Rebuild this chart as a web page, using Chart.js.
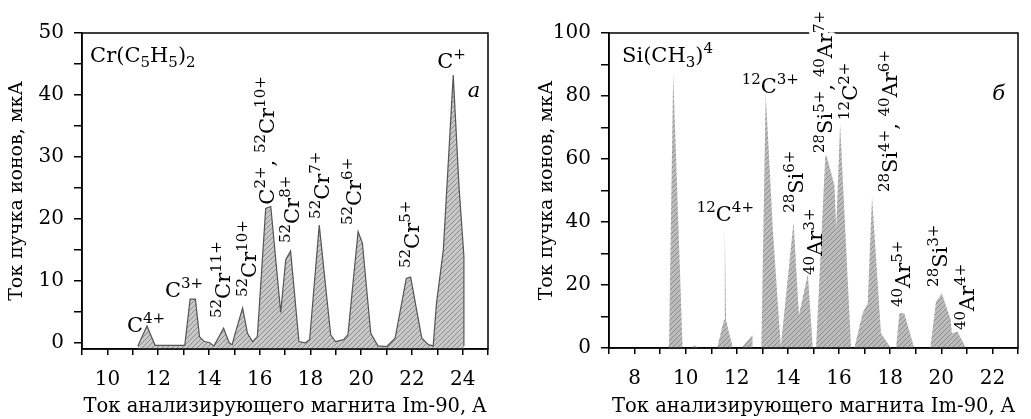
<!DOCTYPE html>
<html><head><meta charset="utf-8">
<script src="https://cdn.jsdelivr.net/npm/chart.js@4.4.1/dist/chart.umd.min.js"></script>
<style>
html,body{margin:0;padding:0;background:#fff;}
#wrap{position:relative;width:1031px;height:419px;overflow:hidden;}
#c1{position:absolute;left:0;top:0;}
#c2{position:absolute;left:515px;top:0;}
</style></head>
<body><div id="wrap"><canvas id="c1" width="515" height="419"></canvas><canvas id="c2" width="516" height="419"></canvas></div>
<script>
// ---- data: left panel Cr(C5H5)2 ----
const crX = [11.2,11.56,11.88,13.05,13.26,13.47,13.63,13.82,14.02,14.2,14.58,14.8,14.92,15.0,15.33,15.52,15.72,15.91,16.24,16.44,16.83,17.03,17.22,17.55,17.8,17.97,18.35,18.8,18.99,19.31,19.48,19.88,20.05,20.38,20.66,21.01,21.34,21.78,21.95,22.39,22.65,22.84,22.97,23.24,23.63,23.86,24.05,24.05];
const crY = [-0.5,2.7,-0.4,-0.4,7.05,7.05,1.0,0.2,0.05,-0.5,2.35,0,-0.3,1.0,5.6,1.55,0.2,1.0,21.7,22.0,4.9,13.4,14.8,0.2,0,0.5,19.0,1.3,0.2,0.5,1.3,17.95,16.1,1.55,-0.5,-0.6,0.75,10.4,10.6,0.75,-0.3,-0.5,6.4,15,43.2,25,14,-0.5];
// ---- data: right panel Si(CH3)4 ----
const siX = [9.3,9.35,9.51,9.88,10.2,10.36,10.5,11.23,11.4,11.5,11.53,11.58,11.66,11.85,12.18,12.61,12.62,12.96,13.13,13.41,13.72,14.22,14.43,14.78,14.97,15.1,15.47,15.82,15.89,16.04,16.47,16.6,16.92,17.12,17.29,17.64,18.03,18.23,18.36,18.55,18.94,19.57,19.79,20.02,20.37,20.41,20.63,20.96];
const siY = [0,1,87.2,0,0,0.8,0,0,5.7,8.9,38.5,8.9,6,0,0,4.1,0,0,80.9,37.5,0.5,40.1,10.5,23.5,0.5,0,62.3,51.7,38,71.3,0,0,11,14.2,48,4.7,0,0,11,11,0,0,14.7,17.4,8.9,4.7,5.2,0];
// ---- axis ticks ----
const crXTicks = [9,10,11,12,13,14,15,16,17,18,19,20,21,22,23,24,25];
const crXLabels = [10,12,14,16,18,20,22,24];
const crYTicks = [0,5,10,15,20,25,30,35,40,45,50];
const crYLabels = [0,10,20,30,40,50];
const siXTicks = [7,8,9,10,11,12,13,14,15,16,17,18,19,20,21,22,23];
const siXLabels = [8,10,12,14,16,18,20,22];
const siYTicks = [0,10,20,30,40,50,60,70,80,90,100];
const siYLabels = [0,20,40,60,80,100];
// ---- text ----
const xTitle = 'Ток анализирующего магнита Im-90, A';
const yTitle = 'Ток пучка ионов, мкА';
const crLabels = [
 {x:9.32,y:45.3,t:'Cr(C_{5}H_{5})_{2}',r:0},
 {x:10.77,y:1.74,t:'C^{4+}',r:0},
 {x:12.27,y:7.39,t:'C^{3+}',r:0},
 {x:14.83,y:4.0,t:'^{52}Cr^{11+}',r:1},
 {x:15.86,y:7.39,t:'^{52}Cr^{10+}',r:1},
 {x:16.55,y:22.3,t:'C^{2+}, ^{52}Cr^{10+}',r:1},
 {x:17.55,y:16.1,t:'^{52}Cr^{8+}',r:1},
 {x:18.73,y:20.0,t:'^{52}Cr^{7+}',r:1},
 {x:20.0,y:19.0,t:'^{52}Cr^{6+}',r:1},
 {x:22.28,y:12.07,t:'^{52}Cr^{5+}',r:1},
 {x:23.0,y:44.35,t:'C^{+}',r:0},
 {x:24.2,y:39.67,t:'a',r:0,it:1}
];
const siLabels = [
 {x:7.51,y:90.8,t:'Si(CH_{3})^{4}',r:0},
 {x:10.43,y:40.3,t:'^{12}C^{4+}',r:0},
 {x:12.19,y:81,t:'^{12}C^{3+}',r:0},
 {x:14.57,y:42.9,t:'^{28}Si^{6+}',r:1},
 {x:15.35,y:23.2,t:'^{40}Ar^{3+}',r:1},
 {x:15.74,y:61.9,t:'^{28}Si^{5+}, ^{40}Ar^{7+}',r:1,halo:1},
 {x:16.72,y:72.4,t:'^{12}C^{2+}',r:1},
 {x:18.28,y:49.5,t:'^{28}Si^{4+}, ^{40}Ar^{6+}',r:1},
 {x:18.79,y:13,t:'^{40}Ar^{5+}',r:1},
 {x:20.23,y:19.4,t:'^{28}Si^{3+}',r:1},
 {x:21.28,y:5.7,t:'^{40}Ar^{4+}',r:1},
 {x:21.99,y:78.7,t:'б',r:0,it:1}
];

const FONT = 'DejaVu Serif';
function hatch(bg, fg){
  const c = document.createElement('canvas'); c.width = 5; c.height = 5;
  const g = c.getContext('2d');
  g.fillStyle = bg; g.fillRect(0,0,5,5);
  g.strokeStyle = fg; g.lineWidth = 1;
  g.beginPath(); g.moveTo(0,5); g.lineTo(5,0); g.moveTo(-1,1); g.lineTo(1,-1); g.moveTo(4,6); g.lineTo(6,4); g.stroke();
  return g.createPattern(c,'repeat');
}
function parseRich(s){
  const out=[]; const re=/([\^_])\{([^}]*)\}|([^\^_]+)/g; let m;
  while((m=re.exec(s))){ if(m[3]) out.push([m[3],'n']); else out.push([m[2], m[1]==='^'?'sup':'sub']); }
  return out;
}
function drawRich(ctx,x,y,s,rot,size,italic,halo){
  const parts=parseRich(s);
  ctx.save(); ctx.translate(x,y); if(rot) ctx.rotate(-Math.PI/2);
  ctx.textBaseline='alphabetic'; ctx.textAlign='left';
  let cx=0;
  for(const [txt,k] of parts){
    const fs = k==='n'?size:Math.round(size*0.72);
    const dy = k==='sup'?-size*0.42:(k==='sub'?size*0.22:0);
    ctx.font=(italic?'italic ':'')+fs+'px "'+FONT+'"';
    if(halo){ctx.strokeStyle='#fff';ctx.lineWidth=8;ctx.lineJoin='round';ctx.strokeText(txt,cx,dy);}
    ctx.fillStyle='#000'; ctx.fillText(txt,cx,dy);
    cx+=ctx.measureText(txt).width;
  }
  ctx.restore();
}
function makePlugin(labels){
  return {id:'frameLabels',
    afterDatasetsDraw(chart){
      const {ctx,chartArea:a,scales}=chart;
      ctx.save(); ctx.strokeStyle='#000'; ctx.lineWidth=1.5;
      ctx.strokeRect(a.left,a.top,a.right-a.left,a.bottom-a.top); ctx.restore();
      for(const L of labels){
        drawRich(ctx, scales.x.getPixelForValue(L.x), scales.y.getPixelForValue(L.y), L.t, L.r, 21, L.it, L.halo);
      }
    }};
}
function makeChart(id, xs, ys, xT, xL, yT, yL, xmin, xmax, ymin, ymax, pad, yW, xH, fill, fillStyle, border, labels, ytp){
  const pts = xs.map((v,i)=>({x:v,y:ys[i]}));
  return new Chart(document.getElementById(id),{
    type:'line',
    data:{datasets:[{data:pts, fill:fill, backgroundColor:fillStyle, borderColor:border||'rgba(0,0,0,0)', borderWidth:border?1.2:0, pointRadius:0, tension:0}]},
    options:{responsive:false, animation:false, devicePixelRatio:1,
      layout:{padding:pad},
      plugins:{legend:{display:false},tooltip:{enabled:false}},
      scales:{
        x:{type:'linear',min:xmin,max:xmax,
          afterBuildTicks:s=>{s.ticks=xT.map(v=>({value:v}));},
          afterFit:s=>{s.height=xH;},
          ticks:{autoSkip:false,maxRotation:0,padding:13,color:'#000',font:{family:FONT,size:20},callback:v=>xL.includes(v)?String(v):''},
          grid:{drawOnChartArea:false,tickLength:6,color:'#000',lineWidth:1.5},
          border:{display:true,color:'#000',width:1.5},
          title:{display:true,text:xTitle,color:'#000',font:{family:FONT,size:19.5},padding:{top:2,bottom:0}}},
        y:{type:'linear',min:ymin,max:ymax,
          afterBuildTicks:s=>{s.ticks=yT.map(v=>({value:v}));},
          afterFit:s=>{s.width=yW;},
          ticks:{autoSkip:false,padding:10,color:'#000',font:{family:FONT,size:20},callback:v=>yL.includes(v)?String(v):''},
          grid:{drawOnChartArea:false,tickLength:8,color:'#000',lineWidth:1.5},
          border:{display:true,color:'#000',width:1.5},
          title:{display:true,text:yTitle,color:'#000',font:{family:FONT,size:19},padding:{top:ytp,bottom:0}}}
      }},
    plugins:[makePlugin(labels)]
  });
}
makeChart('c1', crX, crY, crXTicks, crXLabels, crYTicks, crYLabels, 9, 25, -1, 50,
  {left:0,right:27,top:33,bottom:0}, 82, 70, 'start', hatch('#c8c8c8','#8c8c8c'), '#555', crLabels, 6);
makeChart('c2', siX, siY, siXTicks, siXLabels, siYTicks, siYLabels, 7, 23, 0, 100,
  {left:0,right:12,top:33,bottom:0}, 94, 71, 'origin', hatch('#bcbcbc','#8a8a8a'), null, siLabels, 21);
</script></body></html>
